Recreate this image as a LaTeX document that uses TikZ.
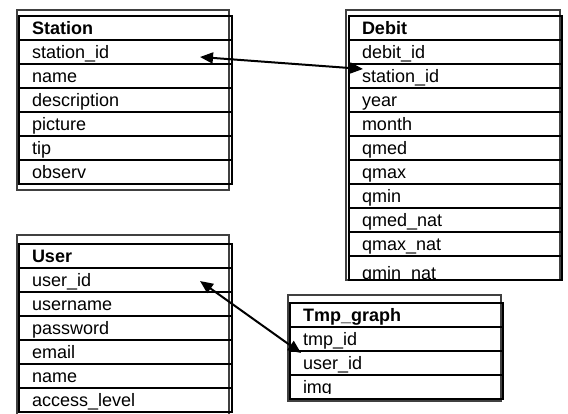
\documentclass[tikz,border=0pt]{standalone}
\usepackage{fontspec}
\setmainfont{Liberation Sans}
\usetikzlibrary{positioning,arrows.meta}

\begin{document}
\begin{tikzpicture}[x=1pt,y=-1pt,
		cell/.style={draw,rectangle,line width=1.6pt,outer sep=0pt,
			inner ysep=0pt,inner xsep=13pt,minimum width=213pt,minimum height=24pt,
			text width=187pt,align=left,text height=16pt,text depth=2.5pt,
			font=\fontsize{18}{20}\selectfont},
		head/.style={cell,font=\fontsize{18}{20}\selectfont\bfseries},
		frame/.style={draw=black!75,line width=1.4pt},
		link/.style={line width=2pt,
			{Triangle[length=13pt,width=11pt]}-{Triangle[length=13pt,width=11pt]}}]
	\clip (0,0) rectangle (568,414);
	\fill[white] (0,0) rectangle (568,414);

	% Station
	\draw[frame] (17,10) rectangle (229,190);
	\node[head,anchor=north west] (st0) at (19,16) {Station};
	\foreach \f [count=\i, remember=\i as \j (initially 0)] in
		{station\_id,name,description,picture,tip,observ}
		\node[cell,below=0pt of st\j] (st\i) {\f};

	% Debit
	\draw[frame] (346,10) rectangle (560,280);
	\node[head,anchor=north west] (db0) at (349,16) {Debit};
	\foreach \f [count=\i, remember=\i as \j (initially 0)] in
		{debit\_id,station\_id,year,month,qmed,qmax,qmin,qmed\_nat,qmax\_nat}
		\node[cell,below=0pt of db\j] (db\i) {\f};
	\node[cell,below=0pt of db9] (db10) {};
	\begin{scope}
		\clip (346,257) rectangle (566,279);
		\node[cell,draw=none,anchor=north west] at ([yshift=-5pt]db10.north west) {qmin\_nat};
	\end{scope}

	% User
	\draw[frame] (17,235) rectangle (229,430);
	\node[head,anchor=north west] (us0) at (19,244) {User};
	\foreach \f [count=\i, remember=\i as \j (initially 0)] in
		{user\_id,username,password,email,name,access\_level}
		\node[cell,below=0pt of us\j] (us\i) {\f};

	% Tmp_graph
	\draw[frame] (288,295) rectangle (501,401);
	\node[head,anchor=north west] (tg0) at (290,303) {Tmp\_graph};
	\foreach \f [count=\i, remember=\i as \j (initially 0)] in
		{tmp\_id,user\_id}
		\node[cell,below=0pt of tg\j] (tg\i) {\f};
	\node[cell,below=0pt of tg2] (tg3) {};
	\begin{scope}
		\clip (288,376) rectangle (506,393.5);
		\node[cell,draw=none,anchor=north west] at (tg3.north west) {img};
	\end{scope}

	% relations
	\draw[link] ([xshift=-32pt,yshift=-5pt]st1.east) -- ([xshift=14pt,yshift=7pt]db2.west);
	\draw[link] ([xshift=-32pt,yshift=-1pt]us1.east) -- ([xshift=11pt,yshift=10pt]tg2.west);
\end{tikzpicture}
\end{document}
